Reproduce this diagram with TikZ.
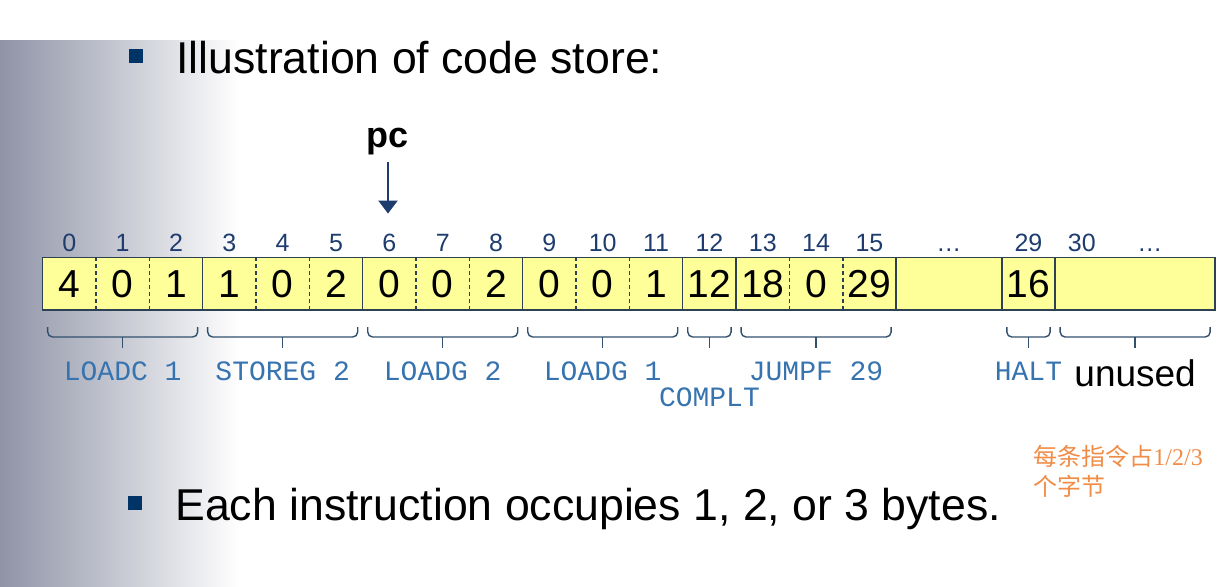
\documentclass[tikz,border=0pt]{standalone}
\usepackage{fontspec}
\setmainfont{Liberation Sans}
\setmonofont{Liberation Mono}
\newfontfamily\cjkfont{Noto Sans CJK SC}
\newfontfamily\notedigits{Liberation Serif}
\usetikzlibrary{positioning,calc,arrows.meta}

\definecolor{bggray}{RGB}{142,147,166}
\definecolor{bulletblue}{RGB}{0,51,102}
\definecolor{cellyellow}{RGB}{255,255,153}
\definecolor{cellline}{RGB}{45,65,85}
\definecolor{idxblue}{RGB}{30,60,110}
\definecolor{instrblue}{RGB}{55,115,175}
\definecolor{bracecol}{RGB}{50,80,110}
\definecolor{noteorange}{RGB}{240,140,70}

% brace under cells #1..#2, tip coordinate #3
\newcommand{\codebrace}[3]{%
  \draw[brace] ([xshift=2.5pt,yshift=-8.5pt]#1.south west) |- ([xshift=-2.5pt,yshift=-13.5pt]#2.south east) -- ([xshift=-2.5pt,yshift=-8.5pt]#2.south east);
  \coordinate (#3) at ($(#1.south west)!0.5!(#2.south east)+(0,-19pt)$);
  \draw[brace] ($(#1.south west)!0.5!(#2.south east)+(0,-13.5pt)$) -- (#3);
}

\begin{document}
\begin{tikzpicture}[x=0.5pt, y=-0.5pt,
    cell/.style={fill=cellyellow, minimum width=26.67pt, minimum height=26.3pt, inner sep=0pt, outer sep=0pt, font=\fontsize{19.5}{22}\selectfont},
    idx/.style={inner sep=0pt, text depth=0pt, text=idxblue, font=\fontsize{12.5}{14}\selectfont},
    instr/.style={inner sep=0pt, text=instrblue, font=\ttfamily\fontsize{14}{16}\selectfont},
    bullet/.style={fill=bulletblue, minimum size=7pt, inner sep=0pt},
    bigtext/.style={inner sep=0pt, font=\fontsize{22.3}{26}\selectfont},
    pclabel/.style={inner sep=0pt, font=\bfseries\fontsize{18}{20}\selectfont},
    note/.style={inner sep=0pt, text=noteorange, font=\cjkfont\fontsize{12}{14}\selectfont},
    sep/.style={draw=cellline, line width=0.75pt},
    dashsep/.style={sep, dash pattern=on 2pt off 1.5pt},
    brace/.style={draw=bracecol, line width=0.7pt, rounded corners=2.5pt},
    pcarrow/.style={-{Triangle[width=9.5pt,length=6.5pt]}, draw=idxblue, line width=1.2pt}]
    \useasboundingbox (0,0) rectangle (1220,586);
    \shade[left color=bggray, right color=white] (0,40) rectangle (240,586);

    % headings
    \node[bullet] (b1) at (135.5,56) {};
    \node[bigtext, anchor=base west] (title) at (176,73.3) {Illustration of code store:};
    \node[bullet] (b2) at (135,502.5) {};
    \node[bigtext, anchor=base west] (summary) at (175,520) {Each instruction occupies 1, 2, or 3 bytes.};

    % code store cells
    \node[cell] (c0) at (69.33,283.7) {4};
    \node[cell, right=0pt of c0] (c1) {0};
    \node[cell, right=0pt of c1] (c2) {1};
    \node[cell, right=0pt of c2] (c3) {1};
    \node[cell, right=0pt of c3] (c4) {0};
    \node[cell, right=0pt of c4] (c5) {2};
    \node[cell, right=0pt of c5] (c6) {0};
    \node[cell, right=0pt of c6] (c7) {0};
    \node[cell, right=0pt of c7] (c8) {2};
    \node[cell, right=0pt of c8] (c9) {0};
    \node[cell, right=0pt of c9] (c10) {0};
    \node[cell, right=0pt of c10] (c11) {1};
    \node[cell, right=0pt of c11] (c12) {12};
    \node[cell, right=0pt of c12] (c13) {18};
    \node[cell, right=0pt of c13] (c14) {0};
    \node[cell, right=0pt of c14] (c15) {29};
    \node[cell, right=0pt of c15, minimum width=52.85pt] (cd) {};
    \node[cell, right=0pt of cd] (c29) {16};
    \node[cell, right=0pt of c29, minimum width=80pt] (cu) {};

    % borders
    \draw[sep] (c0.north west) rectangle (cu.south east);
    \draw[dashsep] (c0.north east) -- (c0.south east);
    \draw[dashsep] (c1.north east) -- (c1.south east);
    \draw[sep] (c2.north east) -- (c2.south east);
    \draw[dashsep] (c3.north east) -- (c3.south east);
    \draw[dashsep] (c4.north east) -- (c4.south east);
    \draw[sep] (c5.north east) -- (c5.south east);
    \draw[dashsep] (c6.north east) -- (c6.south east);
    \draw[dashsep] (c7.north east) -- (c7.south east);
    \draw[sep] (c8.north east) -- (c8.south east);
    \draw[dashsep] (c9.north east) -- (c9.south east);
    \draw[dashsep] (c10.north east) -- (c10.south east);
    \draw[sep] (c11.north east) -- (c11.south east);
    \draw[sep] (c12.north east) -- (c12.south east);
    \draw[dashsep] (c13.north east) -- (c13.south east);
    \draw[dashsep] (c14.north east) -- (c14.south east);
    \draw[sep] (c15.north east) -- (c15.south east);
    \draw[sep] (cd.north east) -- (cd.south east);
    \draw[sep] (c29.north east) -- (c29.south east);

    % addresses
    \node[idx, above=2.8pt of c0] (i0) {0};
    \node[idx, above=2.8pt of c1] (i1) {1};
    \node[idx, above=2.8pt of c2] (i2) {2};
    \node[idx, above=2.8pt of c3] (i3) {3};
    \node[idx, above=2.8pt of c4] (i4) {4};
    \node[idx, above=2.8pt of c5] (i5) {5};
    \node[idx, above=2.8pt of c6] (i6) {6};
    \node[idx, above=2.8pt of c7] (i7) {7};
    \node[idx, above=2.8pt of c8] (i8) {8};
    \node[idx, above=2.8pt of c9] (i9) {9};
    \node[idx, above=2.8pt of c10] (i10) {10};
    \node[idx, above=2.8pt of c11] (i11) {11};
    \node[idx, above=2.8pt of c12] (i12) {12};
    \node[idx, above=2.8pt of c13] (i13) {13};
    \node[idx, above=2.8pt of c14] (i14) {14};
    \node[idx, above=2.8pt of c15] (i15) {15};
    \node[idx, above=2.8pt of cd] (idots) {…};
    \node[idx, above=2.8pt of c29] (i29) {29};
    \node[idx, anchor=south] (i30) at ([xshift=13.33pt,yshift=2.8pt]cu.north west) {30};
    \node[idx, anchor=south] (idots2) at ([xshift=47.3pt,yshift=2.8pt]cu.north west) {…};

    % program counter
    \node[pclabel, anchor=base] (pc) at (388,147) {pc};
    \draw[pcarrow, shorten <=3.5pt, shorten >=10pt] (pc.south) -- (pc.south |- i6.north);

    % instructions
    \codebrace{c0}{c2}{tloadc}
    \codebrace{c3}{c5}{tstoreg}
    \codebrace{c6}{c8}{tloadgb}
    \codebrace{c9}{c11}{tloadga}
    \codebrace{c12}{c12}{tcomplt}
    \codebrace{c13}{c15}{tjumpf}
    \codebrace{c29}{c29}{thalt}
    \codebrace{cu}{cu}{tunused}
    \node[instr, anchor=base] (lloadc) at ([yshift=-16pt]tloadc) {LOADC 1};
    \node[instr, anchor=base] (lstoreg) at ([yshift=-16pt]tstoreg) {STOREG 2};
    \node[instr, anchor=base] (lloadgb) at ([yshift=-16pt]tloadgb) {LOADG 2};
    \node[instr, anchor=base] (lloadga) at ([yshift=-16pt]tloadga) {LOADG 1};
    \node[instr, anchor=base] (lcomplt) at ([yshift=-29.3pt]tcomplt) {COMPLT};
    \node[instr, anchor=base] (ljumpf) at ([yshift=-16pt]tjumpf) {JUMPF 29};
    \node[instr, anchor=base] (lhalt) at ([yshift=-16pt]thalt) {HALT};
    \node[inner sep=0pt, anchor=base, font=\fontsize{18.5}{21}\selectfont] (lunused) at ([yshift=-19.3pt]tunused) {unused};

    % annotation
    \node[note, anchor=base west] (note1) at (1033,465) {每条指令占{\notedigits 1/2/3}};
    \node[note, anchor=base west] (note2) at (1033,495) {个字节};
\end{tikzpicture}
\end{document}
